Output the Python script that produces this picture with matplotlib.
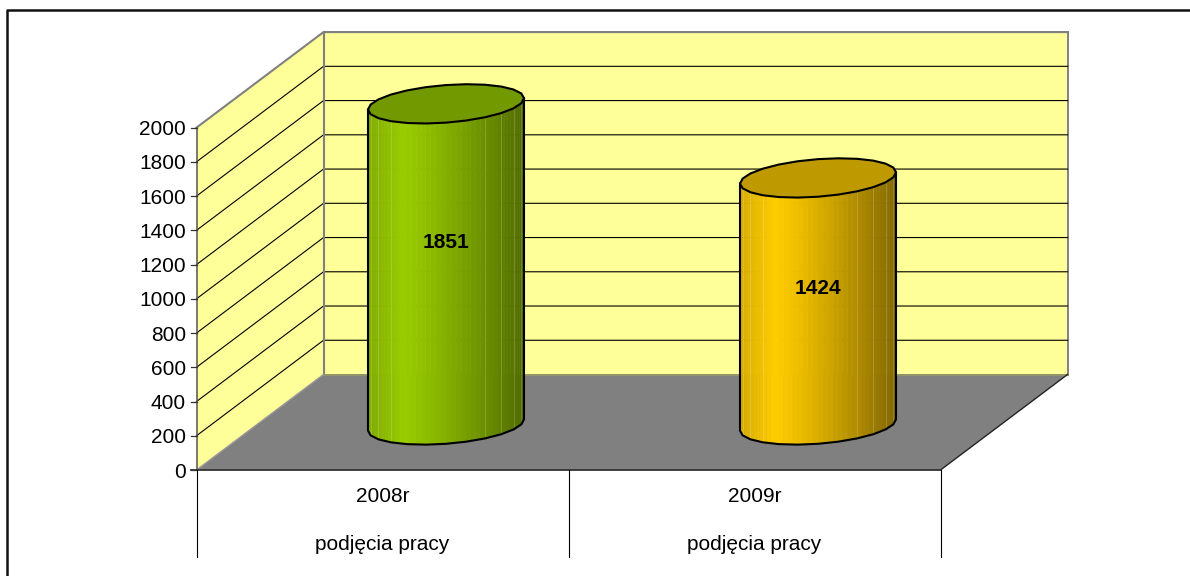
import matplotlib
matplotlib.use('Agg')
import matplotlib.pyplot as plt
from matplotlib.patches import Polygon
from matplotlib.colors import to_rgb
import numpy as np

categories = ['2008r', '2009r']
sublabels = ['podjęcia pracy', 'podjęcia pracy']
values = [1851, 1424]
y_ticks = [0, 200, 400, 600, 800, 1000, 1200, 1400, 1600, 1800, 2000]
bar_light = ['#99CC00', '#FFCC00']
bar_dark = ['#4F6A00', '#806600']
bar_top = ['#739900', '#BF9900']

# pixel layout of the fake 3d box
X0, X1 = 196.5, 940.5
Y0, PX_PER_UNIT = 470.0, 0.1712
DX, DY = 127.0, -95.5
BAR_SCALE = 0.1735
BASE_Y = 425.0
A, B, C = 78.0, 18.8, 5.7
N = 24
SUB = 4

plt.rcParams['font.family'] = ['Liberation Sans', 'DejaVu Sans']
fig = plt.figure(figsize=(11.9, 5.76), dpi=100)
ax = fig.add_axes([0, 0, 1, 1])
ax.set_xlim(0, 1190)
ax.set_ylim(576, 0)
ax.axis('off')

# only the top and left of the outer frame are in the picture
ax.plot([6.8, 6.8, 1190], [576, 9.8, 9.8], color='#111111', lw=1.8, zorder=1)


def val_y(v):
    return Y0 - v * PX_PER_UNIT


top = y_ticks[-1]
wall = '#FFFF99'
border = '#808080'
# back wall, side wall, floor
ax.add_patch(Polygon([(X0 + DX, Y0 + DY), (X1 + DX, Y0 + DY), (X1 + DX, val_y(top) + DY), (X0 + DX, val_y(top) + DY)],
                     fc=wall, ec=border, lw=1.4, zorder=1))
ax.add_patch(Polygon([(X0, Y0), (X0 + DX, Y0 + DY), (X0 + DX, val_y(top) + DY), (X0, val_y(top))],
                     fc=wall, ec='none', zorder=1))
ax.add_patch(Polygon([(X0, Y0), (X1, Y0), (X1 + DX, Y0 + DY), (X0 + DX, Y0 + DY)],
                     fc='#808080', ec='none', zorder=1.5))

# gridlines
for v in y_ticks[1:-1]:
    y = val_y(v)
    ax.plot([X0, X0 + DX, X1 + DX], [y, y + DY, y + DY], color='black', lw=0.8, zorder=1.2)

ax.plot([X0 + DX, X0 + DX], [Y0 + DY, val_y(top) + DY], color=border, lw=1.5, zorder=1.3)
ax.plot([X0, X0 + DX, X1 + DX], [val_y(top), val_y(top) + DY, val_y(top) + DY], color=border, lw=1.5, zorder=1.3)
ax.plot([X0, X0 + DX], [Y0, Y0 + DY], color='#999999', lw=1, zorder=1.6)
ax.plot([X0 + DX, X1 + DX], [Y0 + DY, Y0 + DY], color='#999966', lw=1.2, zorder=1.6)
ax.plot([X1, X1 + DX], [Y0, Y0 + DY], color='#222222', lw=1, zorder=1.6)
ax.plot([X0, X0], [Y0, val_y(top)], color='#555555', lw=1.1, zorder=1.6)

# y axis ticks and labels
for v in y_ticks:
    y = val_y(v)
    ax.plot([X0 - 6, X0], [y, y], color='#333333', lw=0.9, zorder=2)
    ax.text(X0 - 10.5, y, str(v), ha='right', va='center_baseline', fontsize=15, color='black')

# x axis and category separators
ax.plot([X0 - 6, X1], [Y0, Y0], color='#333333', lw=1.3, zorder=2)
n = len(categories)
for i in range(n + 1):
    x = X0 + (X1 - X0) * i / n
    ax.plot([x, x], [Y0, 557], color='black', lw=0.8, zorder=2)


def ring(cx, cy, t):
    return cx + A * np.cos(t), cy - C * np.cos(t) + B * np.sin(t)


def shade(pos, light, dark):
    if pos < 0.22:
        return light * (0.84 + 0.16 * pos / 0.22)
    return light + (dark - light) * ((pos - 0.22) / 0.78) ** 1.2


# cylinders sit halfway into the depth of the box
for i, v in enumerate(values):
    cat_x = X0 + (X1 - X0) * (i + 0.5) / n
    cx = cat_x + DX / 2
    cy = BASE_Y - v * BAR_SCALE
    t = np.linspace(0, 2 * np.pi, N + 1)
    xs, ys = ring(cx, cy, t)
    xb, yb = ring(cx, BASE_Y, t)
    light = np.array(to_rgb(bar_light[i]))
    dark = np.array(to_rgb(bar_dark[i]))
    for k in range(N // 2):
        # split every facet so the shading runs smoothly across it
        for j in range(SUB):
            f0, f1 = j / SUB, (j + 1) / SUB
            xa = xs[k] + (xs[k + 1] - xs[k]) * np.array([f0, f1])
            ya = ys[k] + (ys[k + 1] - ys[k]) * np.array([f0, f1])
            yc = yb[k] + (yb[k + 1] - yb[k]) * np.array([f0, f1])
            pos = (xa.mean() - (cx - A)) / (2 * A)  # 0 left, 1 right
            col = tuple(shade(pos, light, dark))
            ax.add_patch(Polygon([(xa[0], ya[0]), (xa[1], ya[1]), (xa[1], yc[1]), (xa[0], yc[0])],
                                 fc=col, ec=col, lw=0.4, zorder=3))
        # light seams only show near the sides
        pos_k = (xs[k] - (cx - A)) / (2 * A)
        if 0 < k and (pos_k < 0.15 or pos_k > 0.72):
            ax.plot([xs[k], xb[k]], [ys[k], yb[k]], color='white', lw=0.6, alpha=0.2, zorder=3.1)
    half = N // 2 + 1
    outline_x = [xs[0]] + list(xb[:half]) + [xs[half - 1]]
    outline_y = [ys[0]] + list(yb[:half]) + [ys[half - 1]]
    ax.plot(outline_x, outline_y, color='black', lw=1.5, zorder=4, solid_joinstyle='round')
    ax.add_patch(Polygon(np.column_stack([xs[:-1], ys[:-1]]), fc=bar_top[i], ec='black', lw=1.5, zorder=4))
    ax.text(cx, 440 - v * 0.1077, str(v), ha='center', va='center_baseline', fontsize=15,
            fontweight='bold', color='black', zorder=5)
    ax.text(cat_x, 495, categories[i], ha='center', va='center_baseline', fontsize=15, color='black')
    ax.text(cat_x, 543, sublabels[i], ha='center', va='center_baseline', fontsize=15, color='black')

fig.savefig('out.png', dpi=100)
plt.close(fig)
